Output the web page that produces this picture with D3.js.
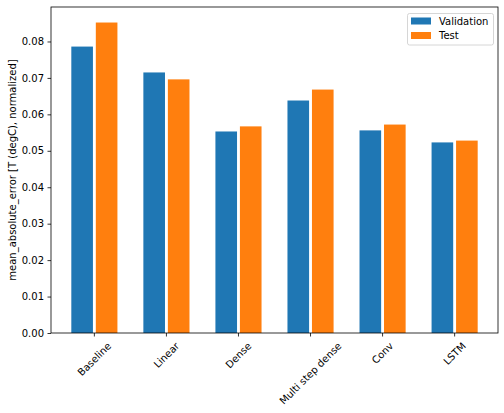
<!DOCTYPE html>
<html><head><meta charset="utf-8">
<script src="https://cdn.jsdelivr.net/npm/d3@7"></script>
<style>body{margin:0;background:#fff}svg{display:block}text{font-family:"DejaVu Sans",sans-serif;font-size:10px;fill:#000}</style>
</head><body>
<svg id="c" width="504" height="413"></svg>
<script>
const categories = ["Baseline","Linear","Dense","Multi step dense","Conv","LSTM"];
const validation = [0.0786,0.0715,0.0553,0.0638,0.0556,0.0523];
const test = [0.0852,0.0696,0.0567,0.0668,0.0572,0.0528];
const yTicks = [0,0.01,0.02,0.03,0.04,0.05,0.06,0.07,0.08];
const seriesNames = ["Validation","Test"];
const colors = ["#1f77b4","#ff7f0e"];

const svg = d3.select("#c");
const L=51, R=498, T=7, B=333;
const x = d3.scaleLinear().domain([-0.602,5.602]).range([L,R]);
const ymax = d3.max(test.concat(validation))*1.05;
const y = d3.scaleLinear().domain([0,ymax]).range([B,T]);
const w = 0.3;

const series=[validation,test];
const offs=[-0.17,0.17];
series.forEach((s,si)=>{
  svg.append("g").selectAll("rect").data(s).join("rect")
    .attr("x",(d,i)=>x(i+offs[si]-w/2))
    .attr("width",x(w)-x(0))
    .attr("y",d=>y(d))
    .attr("height",d=>B-y(d))
    .attr("fill",colors[si]);
});

// y axis
const ya = svg.append("g").attr("transform",`translate(${L},0)`)
  .call(d3.axisLeft(y).tickValues(yTicks).tickFormat(d3.format(".2f")).tickSize(3.5).tickPadding(3.5));
ya.select(".domain").remove();
ya.selectAll("line").attr("stroke","#000").attr("stroke-width",0.8);
ya.selectAll("text").attr("font-size","10px").attr("font-family","DejaVu Sans");

// x ticks
const xg = svg.append("g");
categories.forEach((c,i)=>{
  const tx=x(i);
  xg.append("line").attr("x1",tx).attr("x2",tx).attr("y1",B).attr("y2",B+3.5).attr("stroke","#000").attr("stroke-width",0.8);
  const t = xg.append("text").text(c).attr("text-anchor","middle").attr("dominant-baseline","central");
  const tw = t.node().getComputedTextLength();
  const th = 11.6;
  const bh=(tw+th)*Math.SQRT1_2;
  t.attr("transform",`translate(${tx},${B+7+bh/2}) rotate(-45)`);
});

// frame
svg.append("rect").attr("x",L).attr("y",T).attr("width",R-L).attr("height",B-T)
  .attr("fill","none").attr("stroke","#000").attr("stroke-width",0.8);

// y label
svg.append("text").text("mean_absolute_error [T (degC), normalized]")
  .attr("text-anchor","middle")
  .attr("transform",`translate(15.5,${(T+B)/2}) rotate(-90)`);

// legend
const lg = svg.append("g");
lg.append("rect").attr("x",407.5).attr("y",13.5).attr("width",86).attr("height",31.5).attr("rx",2)
  .attr("fill","#fff").attr("fill-opacity",0.8).attr("stroke","#ccc").attr("stroke-width",0.8);
seriesNames.forEach((n,i)=>{
  lg.append("rect").attr("x",411).attr("y",17.5+i*14.5).attr("width",20).attr("height",7).attr("fill",colors[i]);
  lg.append("text").text(n).attr("x",439).attr("y",21+i*14.5).attr("dominant-baseline","central");
});
</script>
</body></html>
